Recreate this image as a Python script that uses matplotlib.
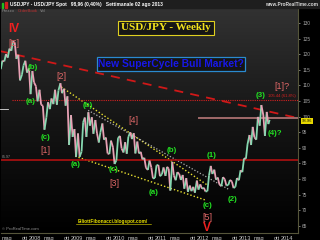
import matplotlib
matplotlib.use("Agg")
import matplotlib.pyplot as plt
import matplotlib.dates as mdates
import numpy as np
import pandas as pd
from matplotlib.collections import LineCollection
from matplotlib.colors import LinearSegmentedColormap
from matplotlib.patches import Rectangle
from matplotlib.lines import Line2D

# USD/JPY weekly, read as monthly swings: first extreme, then second extreme
months = pd.date_range("2007-03-01", "2013-07-01", freq="MS")
first_ext = [115.2, 117.7, 118.9, 121.1, 123.6, 119.8, 113.4, 117.9, 115.5, 114.6,
             109.7, 108.6, 103.5, 99.8, 102.4, 104.0, 103.8, 110.7, 108.9, 106.5, 100.5, 96.0,
             94.6, 88.8, 99.7, 101.4, 99.8, 98.9, 91.7, 97.8, 93.3, 88.0, 90.2, 86.0,
             93.8, 88.5, 88.1, 95.0, 94.7, 92.0, 88.7, 86.8, 82.9, 83.7, 80.3, 84.5,
             81.5, 81.0, 83.3, 85.5, 79.6, 81.6, 81.3, 80.3, 77.9, 77.5, 79.5, 78.3,
             77.2, 76.1, 84.2, 83.0, 80.5, 77.7, 79.9, 78.1, 79.2, 77.5, 79.6, 82.2,
             86.5, 94.1, 96.7, 92.6, 97.1, 100.5, 101.5]
second_ext = [117.9, 120.0, 121.8, 124.1, 118.5, 111.6, 116.4, 114.1, 107.2, 111.0,
              104.9, 103.8, 95.8, 104.6, 105.8, 108.6, 108.4, 107.5, 103.5, 90.9, 93.5, 87.1,
              87.1, 98.2, 93.5, 97.1, 94.5, 94.7, 95.0, 92.6, 88.2, 92.3, 84.8, 93.1,
              89.8, 91.8, 93.5, 92.8, 88.2, 88.2, 86.3, 83.6, 85.9, 80.2, 84.4, 80.9,
              83.7, 83.9, 76.3, 81.1, 82.2, 79.7, 76.9, 75.9, 76.1, 75.6, 76.6, 76.9,
              76.0, 81.2, 81.6, 79.8, 78.3, 80.6, 77.9, 79.7, 77.1, 80.3, 82.8, 86.6,
              91.2, 90.9, 93.4, 99.9, 103.7, 93.8, 97.6]
last_date = pd.Timestamp("2013-08-02")
last_price = 98.96

# trend lines (date, level)
resist_dates = ["2007-03-01", "2014-04-10"]
resist_vals = [121.0, 99.5]
upper_chan_dates = ["2008-08-15", "2012-02-06"]
upper_chan_vals = [109.5, 78.1]
mid_chan_dates = ["2009-04-06", "2012-08-20"]
mid_chan_vals = [102.0, 76.5]
lower_chan_dates = ["2008-12-14", "2012-01-18"]
lower_chan_vals = [87.3, 73.3]
fib_level = 105.3
fib_start = "2007-06-13"
pivot_level = 99.4
pivot_start = "2011-11-25"
support_level = 86.0

# wave labels: text, date, level, kind
wave_labels = [
    ("IV", "2007-07-01", 128.2, "deg"), ("[E]", "2007-07-01", 123.3, "pri"),
    ("(b)", "2007-12-15", 115.6, "int"), ("(a)", "2007-11-18", 104.7, "int"),
    ("(c)", "2008-03-27", 93.4, "int"), ("[1]", "2008-03-27", 89.0, "pri"),
    ("[2]", "2008-08-14", 112.7, "pri"), ("(b)", "2009-04-05", 103.7, "int"),
    ("(a)", "2008-12-14", 84.5, "int"), ("(c)", "2009-11-09", 83.2, "int"),
    ("[3]", "2009-11-25", 78.7, "pri"), ("[4]", "2010-05-01", 98.6, "pri"),
    ("(b)", "2011-04-05", 89.0, "int"), ("(a)", "2010-10-23", 75.8, "int"),
    ("(c)", "2012-02-06", 71.6, "int"), ("[5]", "2012-02-06", 67.8, "pri"),
    ("V", "2012-02-06", 64.2, "deg"), ("(1)", "2012-03-18", 87.4, "int"),
    ("(2)", "2012-09-09", 73.3, "int"), ("(3)", "2013-05-11", 106.9, "int"),
    ("(4)?", "2013-09-17", 94.7, "int"), ("[1]?", "2013-11-16", 109.8, "pri"),
]

tick_dates = ["2007-05-01", "2007-10-01", "2008-01-01", "2008-05-01", "2008-10-01",
              "2009-01-01", "2009-05-01", "2009-10-01", "2010-01-01", "2010-05-01",
              "2010-10-01", "2011-01-01", "2011-05-01", "2011-10-01", "2012-01-01",
              "2012-05-01", "2012-10-01", "2013-01-01", "2013-05-01", "2013-10-01",
              "2014-01-01"]
tick_labels = ["mag", "ott", "2008", "mag", "ott", "2009", "mag", "ott", "2010", "mag",
               "ott", "2011", "mag", "ott", "2012", "mag", "ott", "2013", "mag", "ott",
               "2014"]
price_ticks = [65, 70, 75, 80, 85, 90, 95, 100, 105, 110, 115, 120, 125, 130]

W, H = 320, 240


def fbox(x0, y0, x1, y1):
    return [x0 / W, 1 - y1 / H, (x1 - x0) / W, (y1 - y0) / H]


fig = plt.figure(figsize=(3.2, 2.4), dpi=100, facecolor="black")
ax = fig.add_axes(fbox(1, 8, 298, 233))
ax.set_facecolor("black")

# background gradient
bg = LinearSegmentedColormap.from_list("bg", ["#000000", "#151515", "#323232"])
ax.imshow(np.linspace(0, 1, 256).reshape(-1, 1), extent=[0, 1, 0, 1],
          transform=ax.transAxes, aspect="auto", cmap=bg, origin="lower", zorder=0)

# price swings
dates, prices = [], []
for m, a, b in zip(months, first_ext, second_ext):
    dates += [m + pd.Timedelta(days=7), m + pd.Timedelta(days=21)]
    prices += [a, b]
dates.append(last_date)
prices.append(last_price)
xn = mdates.date2num(dates)
pts = np.column_stack([xn, prices])
segs = np.stack([pts[:-1], pts[1:]], axis=1)
cols = ["#86d8b0" if p1 >= p0 else "#e8a0b4" for p0, p1 in zip(prices[:-1], prices[1:])]
ax.add_collection(LineCollection(segs, colors=cols, linewidths=1.3, zorder=4))

# lines
ax.plot(pd.to_datetime(resist_dates), resist_vals, color="#d01818", lw=1.3,
        dashes=(5, 4), zorder=3)
ax.plot(pd.to_datetime(upper_chan_dates), upper_chan_vals, color="#e8e030", lw=1.0,
        dashes=(1, 1.5), zorder=3)
ax.plot(pd.to_datetime(mid_chan_dates), mid_chan_vals, color="#b0b0b0", lw=0.9,
        dashes=(1, 1.5), zorder=3)
ax.plot(pd.to_datetime(lower_chan_dates), lower_chan_vals, color="#e8e030", lw=1.0,
        dashes=(1, 1.5), zorder=3)
ax.plot([pd.Timestamp(fib_start), pd.Timestamp("2014-04-10")], [fib_level, fib_level],
        color="#d02020", lw=0.8, dashes=(1, 1), zorder=3)
ax.plot([pd.Timestamp(pivot_start), pd.Timestamp("2014-04-10")], [pivot_level, pivot_level],
        color="#a06a6a", lw=1.4, zorder=3)
ax.axhline(support_level, color="#b01010", lw=1.2, zorder=3)

# wave labels
sans = ["Liberation Sans", "DejaVu Sans"]
styles = {
    "deg": dict(color="#f02020", fontsize=8.5, fontweight="bold"),
    "pri": dict(color="#e06868", fontsize=6.5),
    "int": dict(color="#22e022", fontsize=5.8, fontweight="bold"),
}
for txt, d, v, kind in wave_labels:
    ax.text(pd.Timestamp(d), v, txt, ha="center", va="center", zorder=6,
            family=sans, **styles[kind])

ax.text(pd.Timestamp("2013-11-20"), 106.6, "105.44 (61.8%)", color="#d82020",
        fontsize=3.0, ha="center", va="center", zorder=6, family=sans)

ax.set_xlim(pd.Timestamp("2007-03-10"), pd.Timestamp("2014-04-06"))
ax.set_ylim(62.7, 134.8)
ax.set_xticks(pd.to_datetime(tick_dates))
ax.set_xticklabels(tick_labels, family=sans)
ax.set_yticks(price_ticks)
ax.set_yticklabels([str(p) for p in price_ticks], family=sans)
ax.yaxis.tick_right()
ax.tick_params(axis="x", length=0, labelsize=4.0, colors="#c8c8c8", pad=2)
ax.tick_params(axis="y", length=1.5, width=0.5, labelsize=3.4, colors="#a8a8a8", pad=1.5)
for s in ["top", "left"]:
    ax.spines[s].set_visible(False)
for s in ["right", "bottom"]:
    ax.spines[s].set_color("#55553a")
    ax.spines[s].set_linewidth(0.8)

# header
fig.patches.append(Rectangle((0, 1 - 8 / H), 1, 8 / H, transform=fig.transFigure,
                             color="#1e1e1e", zorder=0))
fig.patches.append(Rectangle((2 / W, 1 - 8 / H), 1.5 / W, 5 / H, transform=fig.transFigure,
                             color="#20c020", zorder=2))
fig.patches.append(Rectangle((5 / W, 1 - 8 / H), 1.5 / W, 6 / H, transform=fig.transFigure,
                             color="#d02020", zorder=2))
fig.text(10 / W, 1 - 4.5 / H, "USDJPY - USD/JPY Spot   98,96 (0,40%)   Settimanale 02 ago 2013",
         color="white", fontsize=3.5, fontweight="bold", va="center", family=sans)
fig.text(318 / W, 1 - 4.5 / H, "www.ProRealTime.com", color="#d8d8d8", fontsize=3.4,
         fontweight="bold", ha="right", va="center", family=sans)
fig.text(2 / W, 1 - 11 / H, "Prezzo", color="#8a8a8a", fontsize=3.0, va="center", family=sans)
fig.text(18 / W, 1 - 11 / H, "OrderBook", color="#c03030", fontsize=3.0, va="center", family=sans)
fig.text(40 / W, 1 - 11 / H, "Vol", color="#8a8a8a", fontsize=3.0, va="center", family=sans)

# title boxes
fig.text(166 / W, 1 - 28 / H, "USD/JPY - Weekly", color="#f2e21c", fontsize=8,
         fontweight="bold", family=["Liberation Serif", "DejaVu Serif"], ha="center", va="center",
         bbox=dict(boxstyle="square,pad=0.25", fc="#161616", ec="#e0d020", lw=0.8), zorder=7)
fig.text(171 / W, 1 - 64 / H, "New SuperCycle Bull Market?", color="#1818e8", fontsize=7.4,
         fontweight="bold", family=sans, ha="center", va="center",
         bbox=dict(boxstyle="square,pad=0.15", fc="#141414", ec="#2a8ad0", lw=0.9), zorder=7)

# price tag and small texts
fig.text(307 / W, 1 - 121 / H, "98.96", color="#202000", fontsize=3.0, ha="center",
         va="center", family=sans, bbox=dict(boxstyle="square,pad=0.15", fc="#e8d800", ec="none"))
fig.text(113 / W, 1 - 221 / H, "ElliottFibonacci.blogspot.com/", color="#e8e000",
         fontsize=3.4, fontweight="bold", ha="center", va="center", family=sans)
fig.add_artist(Line2D([76 / W, 151 / W], [1 - 224 / H, 1 - 224 / H], color="#e8e000", lw=0.4))
fig.text(2 / W, 1 - 229 / H, "\u00a9 ProRealTime.com", color="#909090", fontsize=3.0,
         va="center", family=sans)
fig.text(2 / W, 1 - 157 / H, "85.97", color="#909090", fontsize=2.6, va="center", family=sans)
fig.add_artist(Line2D([0, 8 / W], [1 - 109 / H, 1 - 109 / H], color="#e0e0e0", lw=0.6))

fig.savefig("out.png", dpi=100, facecolor=fig.get_facecolor())
